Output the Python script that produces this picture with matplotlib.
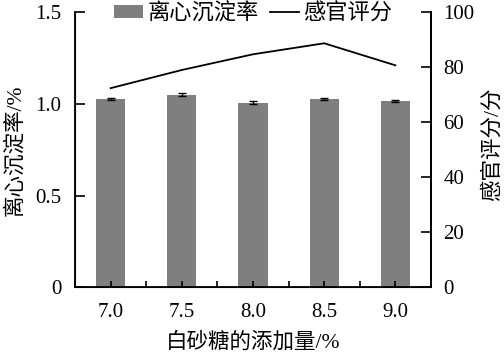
import matplotlib.pyplot as plt
import numpy as np

plt.rcParams['font.family'] = ['Liberation Serif', 'Noto Sans CJK SC']
plt.rcParams['font.size'] = 15

# sugar addition levels
sugar = ['7.0', '7.5', '8.0', '8.5', '9.0']
# centrifugal sedimentation rate (%) and error
sediment = [1.027, 1.050, 1.007, 1.027, 1.015]
sediment_err = [0.008, 0.007, 0.007, 0.008, 0.007]
# sensory score
score = [72.4, 79.0, 84.7, 88.7, 80.7]

x = np.arange(len(sugar))

fig = plt.figure(figsize=(5.04, 3.58), dpi=100)
ax = fig.add_axes([0.149, 0.197, 0.706, 0.769])

bars = ax.bar(x, sediment, width=0.41, color='#7f7f7f', yerr=sediment_err,
              error_kw=dict(ecolor='black', elinewidth=1, capsize=3, capthick=1),
              label='离心沉淀率')
ax.set_xlim(-0.5, 4.5)
ax.set_ylim(0, 1.5)
ax.set_yticks([0, 0.5, 1.0, 1.5])
ax.set_yticklabels(['0', '0.5', '1.0', '1.5'])
ax.set_xticks(x)
ax.set_xticklabels(sugar)
ax.set_xticks(np.arange(-0.5, 4.6, 1.0), minor=True)
ax.tick_params(axis='both', which='both', direction='in', width=1.2)
ax.tick_params(axis='y', length=7, pad=10)
ax.tick_params(axis='x', which='major', length=4, pad=11)
ax.tick_params(axis='x', which='minor', length=4)
ax.spines['top'].set_visible(False)
for s in ['left', 'bottom', 'right']:
    ax.spines[s].set_linewidth(1.3)
ax.set_xlabel('白砂糖的添加量/%', va='center', fontsize=15.5)
ax.xaxis.set_label_coords(0.5, -0.2)
ax.set_ylabel('离心沉淀率/%', va='center', fontsize=15.5)
ax.yaxis.set_label_coords(-0.169, 0.5)

ax2 = ax.twinx()
line, = ax2.plot(x, score, color='black', linewidth=1.3, label='感官评分')
ax2.set_ylim(0, 100)
ax2.set_yticks([0, 20, 40, 60, 80, 100])
ax2.tick_params(axis='y', direction='in', length=7, width=1.2, pad=9)
ax2.spines['top'].set_visible(False)
ax2.spines['right'].set_linewidth(1.3)
ax2.set_ylabel('感官评分/分', va='center', fontsize=15.5)
ax2.yaxis.set_label_coords(1.172, 0.52)

ax.legend([bars, line], ['离心沉淀率', '感官评分'], loc='upper center',
          bbox_to_anchor=(0.5, 1.065), ncol=2, frameon=False, fontsize=16,
          handlelength=1.3, handleheight=0.5, handletextpad=0.2,
          columnspacing=0.5, borderaxespad=0)

fig.savefig('out.png', dpi=100)
